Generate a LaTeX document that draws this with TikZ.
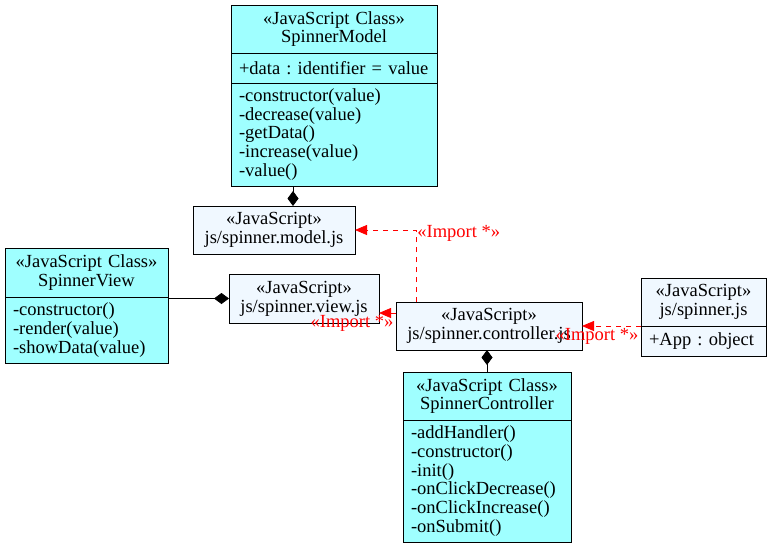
\documentclass[tikz,border=0pt]{standalone}
\usepackage{fontspec}
\setmainfont{Liberation Serif}
\usepackage{xcolor}
\usepackage{tikz}
\usetikzlibrary{arrows.meta,positioning}
\definecolor{umlCyan}{HTML}{9FFFFF}
\definecolor{umlAlice}{HTML}{F0F8FF}
\definecolor{umlRed}{HTML}{FF0000}

\begin{document}
\frenchspacing
\begin{tikzpicture}[
    x=1pt, y=-1pt,
    font=\fontsize{18.5}{18.7}\selectfont,
    part/.style={draw, line width=0.8pt, fill=umlCyan, text width=#1pt,
                 inner xsep=8pt, inner ysep=2pt, outer sep=0pt},
    head/.style={part=#1, align=center, minimum height=48pt},
    body/.style={part=#1, align=left},
    file/.style={draw, line width=0.8pt, fill=umlAlice, align=center,
                 minimum width=#1pt, minimum height=48pt, inner ysep=2pt, outer sep=0pt},
    comp/.style={line width=0.8pt, -{Diamond[length=15pt, width=11pt]}},
    imp/.style={umlRed, line width=0.8pt, dash pattern=on 5pt off 5pt,
                -{Triangle[length=12pt, width=10pt]}},
    lbl/.style={text=umlRed, inner sep=1pt},
  ]
  \useasboundingbox (0,0) rectangle (771,549);

  % --- classes ---
  \node[head=190, anchor=north] (modelhead) at (334,5)
    {«JavaScript Class»\\SpinnerModel};
  \node[body=190, minimum height=30pt, below=0pt of modelhead] (modelattr)
    {+data : identifier = value};
  \node[body=190, minimum height=103pt, below=0pt of modelattr] (modelops)
    {-constructor(value)\\-decrease(value)\\-getData()\\-increase(value)\\-value()};

  \node[head=147, minimum height=49pt, anchor=north] (viewhead) at (86.5,248)
    {«JavaScript Class»\\SpinnerView};
  \node[body=147, minimum height=66pt, below=0pt of viewhead] (viewops)
    {-constructor()\\-render(value)\\-showData(value)};

  \node[head=152, anchor=north] (ctrlhead) at (487,372)
    {«JavaScript Class»\\SpinnerController};
  \node[body=152, minimum height=122pt, below=0pt of ctrlhead] (ctrlops)
    {-addHandler()\\-constructor()\\-init()\\-onClickDecrease()\\-onClickIncrease()\\-onSubmit()};

  % --- modules ---
  \node[file=162] (modeljs) at (274,230) {«JavaScript»\\js/spinner.model.js};
  \node[file=150, minimum height=49pt] (viewjs) at (304,298.5) {«JavaScript»\\js/spinner.view.js};
  \node[file=186] (ctrljs) at (489,326) {«JavaScript»\\js/spinner.controller.js};

  \node[head=109, fill=umlAlice, anchor=north] (apphead) at (703.5,278)
    {«JavaScript»\\js/spinner.js};
  \node[body=109, fill=umlAlice, minimum height=30pt, below=0pt of apphead] (appattr)
    {+App : object};

  % --- composition ---
  \draw[comp] ([xshift=19pt]modeljs.north |- modelops.south) -- ([xshift=19pt]modeljs.north);
  \draw[comp] (viewjs.west -| viewhead.east) -- (viewjs.west);
  \draw[comp] (ctrlhead.north) -- (ctrlhead.north |- ctrljs.south);

  % --- imports ---
  \draw[imp] ([xshift=-73pt]ctrljs.north) |- node[lbl, pos=0.5, anchor=west, yshift=-3pt]
    {«Import *»} (modeljs.east);
  \draw[imp] ([yshift=13pt]ctrljs.west) -- ([yshift=13pt]ctrljs.west -| viewjs.east)
    node[lbl, xshift=-27pt, yshift=-10pt] {«Import *»};
  \draw[imp] (apphead.south west) -- (ctrljs.east)
    node[lbl, xshift=15pt, yshift=-10pt] {«Import *»};

\end{tikzpicture}
\end{document}
